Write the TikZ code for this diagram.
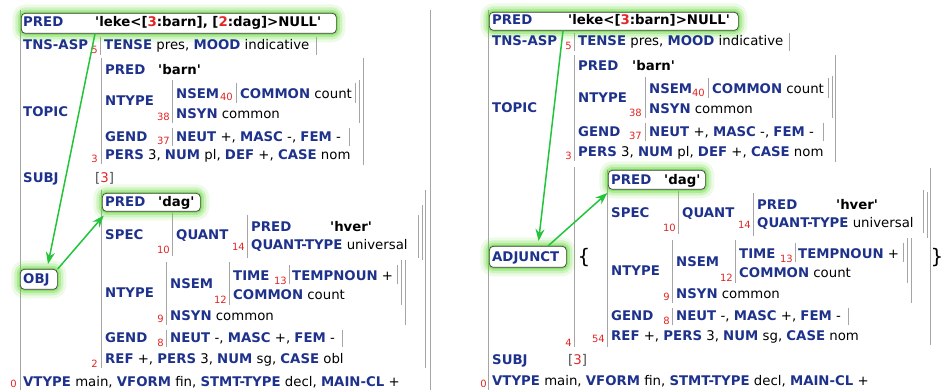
\documentclass[tikz,border=0pt]{standalone}
\usepackage{fontspec}
\setmainfont{DejaVu Sans}
\usetikzlibrary{arrows.meta}
\definecolor{fsblue}{RGB}{30,50,140}
\definecolor{fsred}{RGB}{226,38,38}
\definecolor{fsgrey}{RGB}{165,165,165}
\definecolor{glowgreen}{RGB}{96,214,52}
\definecolor{linkgreen}{RGB}{34,196,58}
\newcommand\fattr[1]{\textcolor{fsblue}{\textbf{#1}}}
\newcommand\fsem[1]{\textbf{#1}}
\newcommand\fred[1]{\textcolor{fsred}{#1}}
\newcommand\fbr[1]{\textcolor{black!70}{#1}}
\newcommand\fq{\textquotesingle}
\tikzset{
  fs/.style={anchor=base west, inner sep=0pt, font=\fontsize{13.3}{16}\selectfont},
  idx/.style={anchor=base east, inner sep=0pt, text=fsred, font=\fontsize{10}{12}\selectfont},
  brace/.style={inner sep=0pt, font=\fontsize{20}{20}\selectfont},
  bar/.style={draw=fsgrey, line width=0.9pt},
  gbox/.style={draw=black!75, fill=white, line width=0.7pt, rounded corners=4pt,
    inner sep=0pt, anchor=north west, line join=round,
    preaction={draw=glowgreen, opacity=0.12, line width=18pt},
    preaction={draw=glowgreen, opacity=0.2, line width=12pt},
    preaction={draw=glowgreen, opacity=0.3, line width=7pt},
    preaction={draw=glowgreen, opacity=0.5, line width=3pt}},
  link/.style={draw=linkgreen, line width=1.5pt, -{Stealth[length=12pt,width=9pt]}, shorten >=5pt}
}
\begin{document}
\begin{tikzpicture}[x=1pt,y=-1pt]
\useasboundingbox (0,0) rectangle (946,390);
\foreach \x/\a/\b in {20/10/392, 430/10/392, 100/37/55, 316/37/55,
  101/58/164, 172/80/123, 236/83/103, 355/83/103, 359/80/123, 172/128/146, 349/128/146, 363/58/165,
  101/190/368, 172/213/256, 247/215/258, 418/215/258, 422/205/260,
  166/262/325, 229/262/305, 289/265/284, 397/265/284, 401/260/305, 405/260/325,
  166/330/347, 342/330/347, 425/190/368,
  488/10/392, 574/33/51, 789/33/51,
  574/55/161, 645/77/118, 708/78/98, 828/78/98, 832/76/118, 645/123/141, 823/123/141, 835/55/162,
  574/167/347, 607/170/347, 930/168/345,
  678/191/234, 753/193/236, 923/190/233, 927/192/238,
  672/240/303, 735/240/283, 795/243/262, 903/243/262, 907/238/283, 911/238/303,
  672/308/325, 848/308/325}
  \draw[bar] (\x,\a) -- (\x,\b);

\node[gbox, minimum width=315, minimum height=20] (predL) at (21,13) {};
\node[gbox, minimum width=98, minimum height=18] (dagL) at (102,193) {};
\node[gbox, minimum width=37, minimum height=20] (objL) at (20,269) {};
\node[gbox, minimum width=249, minimum height=18] (predR) at (489,12) {};
\node[gbox, minimum width=97, minimum height=19] (dagR) at (608,170) {};
\node[gbox, minimum width=77, minimum height=21] (adjR) at (489,246) {};

\foreach \x/\y/\n [count=\k] in {98/54/5, 98/163/3, 170/121/38, 233/101/40, 170/145/37,
  98/367/2, 170/254/10, 245/251/14, 164/323/9, 227/304/12, 287/285/13, 164/347/8, 17/388/0,
  572/50/5, 572/160/3, 642/117/38, 705/97/40, 642/140/37, 572/346/4, 605/343/54,
  676/232/10, 751/229/14, 670/301/9, 733/282/12, 793/263/13, 670/325/8, 487/388/0}
  \node[idx] (idx\k) at (\x,\y) {\n};

\node[fs] (pL) at (23,27) {\fattr{PRED}};
\node[fs] (pLv) at (95,27) {\fsem{\fq leke<[\fred{3}:barn], [\fred{2}:dag]>NULL\fq}};
\node[fs] (tnsL) at (23,50) {\fattr{TNS-ASP}};
\node[fs] (tnsLv) at (104,50) {\fattr{TENSE} pres, \fattr{MOOD} indicative};
\node[fs] (topL) at (23,117) {\fattr{TOPIC}};
\node[fs] (topL1) at (105,75) {\fattr{PRED}};
\node[fs] (topL1v) at (158,75) {\fsem{\fq barn\fq}};
\node[fs] (topL2) at (105,106) {\fattr{NTYPE}};
\node[fs] (topL3) at (176,99) {\fattr{NSEM}};
\node[fs] (topL3v) at (240,99) {\fattr{COMMON} count};
\node[fs] (topL4) at (176,119) {\fattr{NSYN} common};
\node[fs] (topL5) at (105,142) {\fattr{GEND}};
\node[fs] (topL5v) at (176,142) {\fattr{NEUT} +, \fattr{MASC} -, \fattr{FEM} -};
\node[fs] (topL6) at (105,160) {\fattr{PERS} 3, \fattr{NUM} pl, \fattr{DEF} +, \fattr{CASE} nom};
\node[fs] (subjL) at (23,183) {\fattr{SUBJ}};
\node[fs] (subjLv) at (95,183) {\fbr{[}\fred{3}\fbr{]}};
\node[fs] (objLt) at (23,284) {\fattr{OBJ}};
\node[fs] (obL1) at (105,207) {\fattr{PRED}};
\node[fs] (obL1v) at (158,207) {\fsem{\fq dag\fq}};
\node[fs] (obL2) at (105,240) {\fattr{SPEC}};
\node[fs] (obL3) at (176,240) {\fattr{QUANT}};
\node[fs] (obL4) at (251,232) {\fattr{PRED}};
\node[fs] (obL4v) at (330,232) {\fsem{\fq hver\fq}};
\node[fs] (obL5) at (251,250) {\fattr{QUANT-TYPE} universal};
\node[fs] (obL6) at (105,298) {\fattr{NTYPE}};
\node[fs] (obL7) at (170,289) {\fattr{NSEM}};
\node[fs] (obL8) at (233,281) {\fattr{TIME}};
\node[fs] (obL8v) at (292,281) {\fattr{TEMPNOUN} +};
\node[fs] (obL9) at (233,300) {\fattr{COMMON} count};
\node[fs] (obL10) at (170,321) {\fattr{NSYN} common};
\node[fs] (obL11) at (105,343) {\fattr{GEND}};
\node[fs] (obL11v) at (170,343) {\fattr{NEUT} -, \fattr{MASC} +, \fattr{FEM} -};
\node[fs] (obL12) at (105,363) {\fattr{REF} +, \fattr{PERS} 3, \fattr{NUM} sg, \fattr{CASE} obl};
\node[fs] (vtL) at (23,386) {\fattr{VTYPE} main, \fattr{VFORM} fin, \fattr{STMT-TYPE} decl, \fattr{MAIN-CL} +};

\node[fs] (pR) at (492,25) {\fattr{PRED}};
\node[fs] (pRv) at (568,25) {\fsem{\fq leke<[\fred{3}:barn]>NULL\fq}};
\node[fs] (tnsR) at (492,46) {\fattr{TNS-ASP}};
\node[fs] (tnsRv) at (578,46) {\fattr{TENSE} pres, \fattr{MOOD} indicative};
\node[fs] (topR) at (492,113) {\fattr{TOPIC}};
\node[fs] (topR1) at (578,71) {\fattr{PRED}};
\node[fs] (topR1v) at (632,71) {\fsem{\fq barn\fq}};
\node[fs] (topR2) at (578,103) {\fattr{NTYPE}};
\node[fs] (topR3) at (649,94) {\fattr{NSEM}};
\node[fs] (topR3v) at (712,94) {\fattr{COMMON} count};
\node[fs] (topR4) at (649,114) {\fattr{NSYN} common};
\node[fs] (topR5) at (578,137) {\fattr{GEND}};
\node[fs] (topR5v) at (649,137) {\fattr{NEUT} +, \fattr{MASC} -, \fattr{FEM} -};
\node[fs] (topR6) at (578,157) {\fattr{PERS} 3, \fattr{NUM} pl, \fattr{DEF} +, \fattr{CASE} nom};
\node[fs] (adjRt) at (492,262) {\fattr{ADJUNCT}};
\node[brace] (setOpen) at (584,258) {\{};
\node[brace] (setClose) at (937,258) {\}};
\node[fs] (adR1) at (611,185) {\fattr{PRED}};
\node[fs] (adR1v) at (664,185) {\fsem{\fq dag\fq}};
\node[fs] (adR2) at (611,218) {\fattr{SPEC}};
\node[fs] (adR3) at (682,218) {\fattr{QUANT}};
\node[fs] (adR4) at (757,210) {\fattr{PRED}};
\node[fs] (adR4v) at (836,210) {\fsem{\fq hver\fq}};
\node[fs] (adR5) at (757,228) {\fattr{QUANT-TYPE} universal};
\node[fs] (adR6) at (611,276) {\fattr{NTYPE}};
\node[fs] (adR7) at (676,267) {\fattr{NSEM}};
\node[fs] (adR8) at (739,259) {\fattr{TIME}};
\node[fs] (adR8v) at (798,259) {\fattr{TEMPNOUN} +};
\node[fs] (adR9) at (739,278) {\fattr{COMMON} count};
\node[fs] (adR10) at (676,299) {\fattr{NSYN} common};
\node[fs] (adR11) at (611,321) {\fattr{GEND}};
\node[fs] (adR11v) at (676,321) {\fattr{NEUT} -, \fattr{MASC} +, \fattr{FEM} -};
\node[fs] (adR12) at (611,341) {\fattr{REF} +, \fattr{PERS} 3, \fattr{NUM} sg, \fattr{CASE} nom};
\node[fs] (subjR) at (492,365) {\fattr{SUBJ}};
\node[fs] (subjRv) at (568,365) {\fbr{[}\fred{3}\fbr{]}};
\node[fs] (vtR) at (492,385) {\fattr{VTYPE} main, \fattr{VFORM} fin, \fattr{STMT-TYPE} decl, \fattr{MAIN-CL} +};

\draw[link] ([xshift=74]predL.south west) -- ([xshift=27]objL.north west);
\draw[link] (objL.north east) -- ([xshift=5]dagL.south west);
\draw[link] ([xshift=74]predR.south west) -- ([xshift=49]adjR.north west);
\draw[link] ([xshift=59]adjR.north west) -- ([xshift=3]dagR.south west);
\end{tikzpicture}
\end{document}
